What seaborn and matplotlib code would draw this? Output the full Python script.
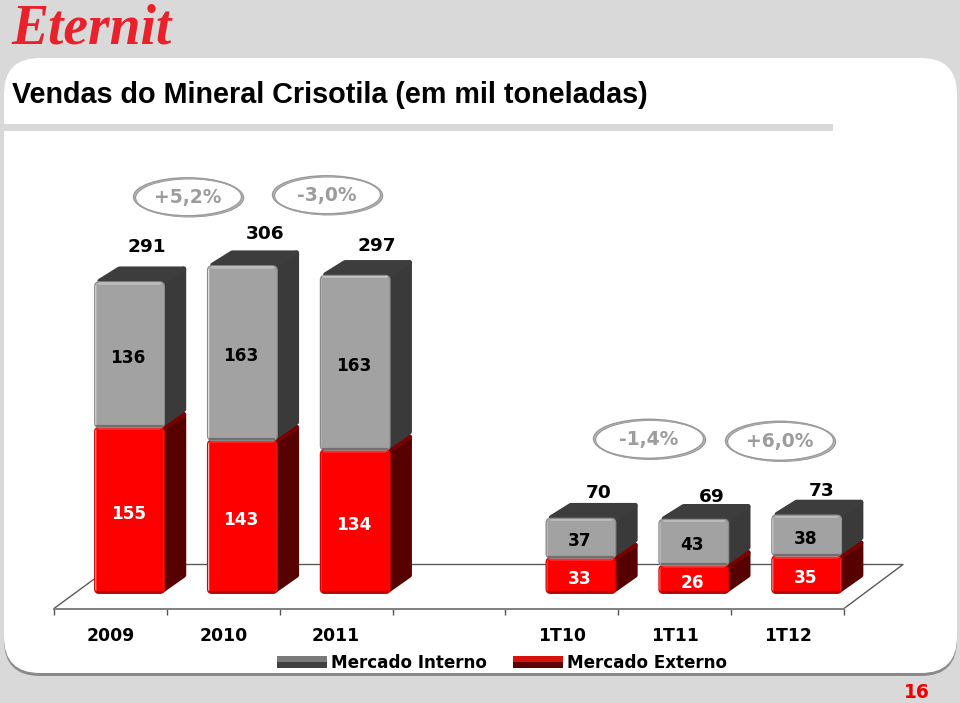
import numpy as np
import pandas as pd
import matplotlib
matplotlib.use("Agg")
import matplotlib.pyplot as plt
import seaborn as sns
from matplotlib.patches import FancyBboxPatch, Polygon, Ellipse, Rectangle, Patch
from matplotlib.legend_handler import HandlerBase

# ---- data -----------------------------------------------------------------
periods = ["2009", "2010", "2011", "1T10", "1T11", "1T12"]
externo = [155, 143, 134, 33, 26, 35]
interno = [136, 163, 163, 37, 43, 38]
totais = [291, 306, 297, 70, 69, 73]
order = ["2009", "2010", "2011", " ", "1T10", "1T11", "1T12"]
variacoes = ["+5,2%", "-3,0%", "-1,4%", "+6,0%"]
title = "Vendas do Mineral Crisotila (em mil toneladas)"

# ---- layout (pixels of the 960x703 picture) --------------------------------
W, H = 960, 703
AX_L, AX_R, AX_BOTTOM, AX_TOP = 54, 844, 608.5, 130
BASE_PX = 593.3
PX_PER_UNIT = 1.07
PX_PER_CAT = (AX_R - AX_L) / 7
DEPTH_X, DEPTH_Y = 22, 15.5
RADIUS = 4.5
total_nudge = [(17, 35), (23, 32), (22, 30), (18, 25), (18, 22), (15, 24)]
oval_boxes = [(188, 197, 110, 42), (327, 195, 110, 42), (649, 439, 112, 43), (780, 441, 110, 43)]

sns.set_theme(style="white")
plt.rcParams["font.family"] = ["DejaVu Sans"]
fig = plt.figure(figsize=(W / 100, H / 100), dpi=100, facecolor="#d9d9d9")

# ---- background in pixel coordinates -------------------------------------
bg = fig.add_axes([0, 0, 1, 1], zorder=0)
bg.set_xlim(0, W)
bg.set_ylim(H, 0)
bg.axis("off")
r = 36
bg.add_patch(FancyBboxPatch((4, 61), 953, 615, boxstyle=f"round,pad=0,rounding_size={r}",
                            fc="#8a8a8a", ec="none", zorder=1))
bg.add_patch(FancyBboxPatch((4, 58), 953, 615, boxstyle=f"round,pad=0,rounding_size={r}",
                            fc="white", ec="none", zorder=2))
bg.add_patch(Rectangle((4, 124), 829, 7, fc="#d9d9d9", ec="none", zorder=3))
bg.text(12, 95, title, fontsize=20.7, fontweight="bold", family="Liberation Sans", color="black",
        va="center", ha="left", zorder=4)
bg.text(11, 29, "Eternit", fontsize=40, fontweight="bold", style="italic", family="Liberation Serif",
        color="#e8212a", va="center", ha="left", zorder=4)
bg.text(917, 693, "16", fontsize=13.5, fontweight="bold", color="#f00000", va="center", ha="center", zorder=4)

# floor of the 3-D chart
floor_x = [AX_L, AX_L + 60, AX_R + 59, AX_R]
floor_y = [AX_BOTTOM, 564.5, 564.5, AX_BOTTOM]
bg.plot(floor_x, floor_y, color="#5a5a5a", lw=1.0, zorder=4)

# growth ovals
for (cx, cy, w, h), txt in zip(oval_boxes, variacoes):
    for off, col in zip((1.5, 0.5, -0.5), ("#8f8f8f", "#b5b5b5", "#9a9a9a")):
        bg.add_patch(Ellipse((cx + off, cy + off * 0.5), w - 2, h - 4, fc="none", ec=col, lw=1.0, zorder=4))
    bg.text(cx, cy, txt, fontsize=13.5, fontweight="bold", color="#9c9c9c", ha="center", va="center", zorder=5)

# ---- chart ---------------------------------------------------------------
ax = fig.add_axes([AX_L / W, 1 - AX_BOTTOM / H, (AX_R - AX_L) / W, (AX_BOTTOM - AX_TOP) / H], zorder=1)
ax.patch.set_visible(False)

df = pd.DataFrame({"periodo": periods, "externo": externo, "interno": interno})
BAR_W = 69.5 / 112.86
sns.barplot(data=df, x="periodo", y="externo", order=order, color="#fe0000", saturation=1,
            width=BAR_W, errorbar=None, ax=ax, label="Mercado Externo", legend=False)
sns.barplot(data=df, x="periodo", y="interno", order=order, color="#a2a2a2", saturation=1,
            width=BAR_W, errorbar=None, ax=ax, bottom=np.array(externo, dtype=float),
            label="Mercado Interno", legend=False)

ax.set_xlim(-75.5 / PX_PER_CAT, 7 - 75.5 / PX_PER_CAT)
ax.set_ylim(-(AX_BOTTOM - BASE_PX) / PX_PER_UNIT, (BASE_PX - AX_TOP) / PX_PER_UNIT)

dx = DEPTH_X / PX_PER_CAT
dy = DEPTH_Y / PX_PER_UNIT
rx = RADIUS / PX_PER_CAT
aspect = PX_PER_CAT / PX_PER_UNIT
ix = 2.6 / PX_PER_CAT
iy = 2.6 / PX_PER_UNIT
px_x = 1.0 / PX_PER_CAT
px_y = 1.0 / PX_PER_UNIT


def dress(bar, z, side_col, top_col, edge, hi, lo):
    x0, y0 = bar.get_x(), bar.get_y()
    w, h = bar.get_width(), bar.get_height()
    x1, y1 = x0 + w, y0 + h
    side = Polygon([(x1 - ix, y0 + iy), (x1 + dx - ix, y0 + dy + iy),
                    (x1 + dx - ix, y1 + dy - iy), (x1 - ix, y1 - iy)],
                   closed=True, fc=side_col, ec=side_col, lw=3.7, joinstyle="round", zorder=z, clip_on=False)
    top = Polygon([(x0 + ix * 2, y1 + iy * .3), (x0 + dx + ix, y1 + dy - iy),
                   (x1 + dx - ix, y1 + dy - iy), (x1, y1 + iy * .3)],
                  closed=True, fc=top_col, ec=top_col, lw=3.7, joinstyle="round", zorder=z, clip_on=False)
    ax.add_patch(side)
    ax.add_patch(top)
    box = FancyBboxPatch((x0, y0), w, h, boxstyle=f"round,pad=0,rounding_size={rx}",
                         mutation_aspect=aspect, fc="none", ec=edge, lw=1.0, zorder=z + 1.2)
    ax.add_patch(box)
    bar.set_zorder(z + 1)
    bar.set_clip_path(box)
    ax.plot([x0 + rx, x1 - rx], [y1 - 1.8 * px_y] * 2, color=hi, lw=1.2, zorder=z + 1.3, solid_capstyle="round")
    ax.plot([x0 + rx * .6, x1 - rx * .6], [y0 + 1.2 * px_y] * 2, color=lo, lw=1.6, zorder=z + 1.3)


red_bars = list(ax.containers[0])
gray_bars = list(ax.containers[1])
for b in red_bars:
    dress(b, 2, "#560000", "#7d0000", "#e00000", "#ff2a2a", "#b00000")
for b in gray_bars:
    dress(b, 5, "#3a3a3a", "#3d3d3d", "#8c8c8c", "#bdbdbd", "#707070")

# value labels
for i, b in enumerate(red_bars):
    xc = b.get_x() + b.get_width() / 2
    ax.annotate(str(externo[i]), (xc, b.get_y() + b.get_height() / 2), xytext=(-1, -3.5 * 0.72),
                textcoords="offset points", ha="center", va="center", color="white",
                fontsize=12.2, fontweight="bold", zorder=12)
for i, b in enumerate(gray_bars):
    xc = b.get_x() + b.get_width() / 2
    ax.annotate(str(interno[i]), (xc, b.get_y() + b.get_height() / 2), xytext=(-1, -3 * 0.72),
                textcoords="offset points", ha="center", va="center", color="black",
                fontsize=12.2, fontweight="bold", zorder=12)
    nx, ny = total_nudge[i]
    ax.annotate(str(totais[i]), (xc, totais[i]), xytext=(nx * 0.72, ny * 0.72),
                textcoords="offset points", ha="center", va="center", color="black",
                fontsize=13.3, fontweight="bold", zorder=12)

# axis
for s in ("left", "top", "right"):
    ax.spines[s].set_visible(False)
ax.spines["bottom"].set_color("#808080")
ax.spines["bottom"].set_linewidth(1.4)
ax.set_xlabel("")
ax.set_ylabel("")
ax.set_yticks([])
lo_x = ax.get_xlim()[0]
ax.set_xticks([lo_x + k for k in range(8)])
ax.set_xticklabels([])
ax.set_xticks([lo_x + k + 0.5 for k in range(7)], minor=True)
ax.set_xticklabels(order, minor=True)
ax.tick_params(axis="x", which="major", length=4.5, width=1.0, color="#555555", bottom=True)
ax.tick_params(axis="x", which="minor", length=0, pad=13, labelsize=12.4, labelcolor="black", bottom=True)
for t in ax.get_xticklabels(minor=True):
    t.set_fontweight("bold")


# legend with two-tone swatches
class TwoTone(HandlerBase):
    def create_artists(self, legend, orig, xd, yd, width, height, fontsize, trans):
        up, down = orig.get_facecolor(), orig.get_edgecolor()
        a = Rectangle((xd, yd + height / 2), width, height / 2, fc=up, ec="none", transform=trans)
        b = Rectangle((xd, yd), width, height / 2, fc=down, ec="none", transform=trans)
        return [a, b]


handles = [Patch(fc="#7a7a7a", ec="#404040", label="Mercado Interno"),
           Patch(fc="#d8120a", ec="#5a0000", label="Mercado Externo")]
leg = fig.legend(handles=handles, loc="lower left", bbox_to_anchor=(277 / W, 1 - 671.5 / H), ncol=2, frameon=False,
                 prop={"weight": "bold", "size": 12.1}, handlelength=2.97, handleheight=0.66,
                 handletextpad=0.22, columnspacing=1.6, borderpad=0, borderaxespad=0,
                 handler_map={Patch: TwoTone()})
for t in leg.get_texts():
    t.set_color("black")

fig.savefig("out.png", dpi=100, facecolor=fig.get_facecolor())
